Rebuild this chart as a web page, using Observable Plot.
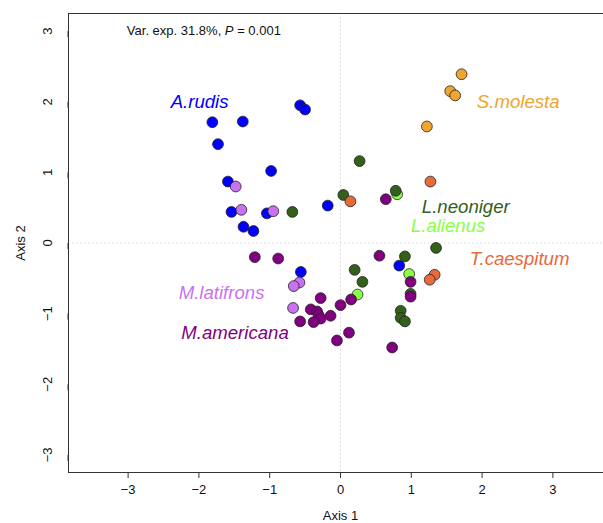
<!DOCTYPE html>
<html>
<head>
<meta charset="utf-8">
<script src="https://cdn.jsdelivr.net/npm/d3@7"></script>
<script src="https://cdn.jsdelivr.net/npm/@observablehq/plot@0.6"></script>
<style>
  html, body { margin: 0; padding: 0; background: #fff; }
  #chart svg { font-family: "Liberation Sans", Arial, Helvetica, sans-serif; display: block; }
</style>
</head>
<body>
<div id="chart"></div>
<script>
// ---- data (ordination scores) ----
const speciesNames = ["A.rudis", "L.alienus", "L.neoniger", "M.americana", "M.latifrons", "S.molesta", "T.caespitum"];
const speciesColors = ["#0000FF", "#88FF44", "#33601A", "#800080", "#C872F2", "#EFA52E", "#E8693A"];

const A_rudis = [[-1.81, 1.71], [-1.38, 1.72], [-1.73, 1.40], [-0.57, 1.95], [-0.50, 1.89], [-0.98, 1.02],
  [-1.59, 0.87], [-1.54, 0.44], [-1.04, 0.42], [-1.37, 0.23], [-1.23, 0.17], [-0.18, 0.53], [-0.56, -0.41], [0.83, -0.32]];
const L_alienus = [[0.80, 0.69], [0.97, -0.44], [0.24, -0.73]];
const L_neoniger = [[0.27, 1.16], [0.04, 0.68], [0.78, 0.74], [-0.68, 0.44], [1.35, -0.07], [0.91, -0.19],
  [0.20, -0.38], [0.31, -0.55], [0.99, -0.72], [0.85, -0.96], [0.85, -1.06], [0.91, -1.11]];
const M_americana = [[-1.21, -0.20], [-0.88, -0.22], [-0.28, -0.78], [-0.42, -0.94], [-0.33, -0.97], [-0.31, -1.02],
  [-0.28, -1.07], [-0.38, -1.12], [-0.57, -1.11], [-0.14, -1.03], [0.00, -0.88], [0.15, -0.80], [0.12, -1.27],
  [-0.05, -1.38], [0.73, -1.48], [0.55, -0.18], [0.64, 0.62], [0.99, -0.55], [0.99, -0.76]];
const M_latifrons = [[-1.48, 0.80], [-1.40, 0.47], [-0.95, 0.45], [-0.58, -0.56], [-0.66, -0.61], [-0.67, -0.92]];
const S_molesta = [[1.71, 2.39], [1.55, 2.15], [1.62, 2.09], [1.22, 1.65]];
const T_caespitum = [[1.27, 0.87], [0.14, 0.59], [1.33, -0.45], [1.26, -0.52]];
const speciesPoints = [A_rudis, L_alienus, L_neoniger, M_americana, M_latifrons, S_molesta, T_caespitum];

// species label positions (data coordinates)
const labelX = [-1.99, 1.52, 1.77, -1.49, -1.68, 2.51, 2.53];
const labelY = [2.00, 0.24, 0.51, -1.28, -0.71, 1.99, -0.23];

const xTicks = [-3, -2, -1, 0, 1, 2, 3];
const yTicks = [-3, -2, -1, 0, 1, 2, 3];
const xDomain = [-3.842, 3.715];
const yDomain = [-3.25, 3.25];
const annotation = {x: -1.93, y: 3, pre: "Var. exp. 31.8%, ", ital: "P", post: " = 0.001"};
const xTitle = "Axis 1";
const yTitle = "Axis 2";

// ---- build tables ----
const points = [];
speciesPoints.forEach((arr, i) => arr.forEach(([x, y]) => points.push({species: speciesNames[i], x, y})));
const labels = speciesNames.map((s, i) => ({species: s, x: labelX[i], y: labelY[i]}));
const fmt = d => d < 0 ? "\u2212" + (-d) : String(d);
const ink = "#333";

const chart = Plot.plot({
  width: 603,
  height: 523,
  marginLeft: 68,
  marginRight: 0,
  marginTop: 13,
  marginBottom: 51,
  style: {fontFamily: "'Liberation Sans', Arial, Helvetica, sans-serif", background: "#fff"},
  x: {domain: xDomain, label: null},
  y: {domain: yDomain, label: null},
  color: {domain: speciesNames, range: speciesColors},
  marks: [
    Plot.ruleX([0], {stroke: "#d9d9d9", strokeDasharray: "1.5,2.5"}),
    Plot.ruleY([0], {stroke: "#d9d9d9", strokeDasharray: "1.5,2.5"}),
    Plot.ruleY([yDomain[0], yDomain[1]], {stroke: ink, strokeWidth: 1}),
    Plot.ruleX([xDomain[0]], {stroke: ink, strokeWidth: 1}),
    Plot.axisX(xTicks, {ticks: xTicks, tickSize: 6, tickPadding: 6, tickFormat: fmt, fontSize: 13, stroke: ink, fill: "#111", label: null}),
    Plot.axisY(yTicks, {ticks: yTicks, tickSize: 6, tickPadding: 15, tickFormat: fmt, fontSize: 13, rotate: -90, textAnchor: "middle", stroke: ink, fill: "#111", label: null}),
    Plot.text([xTitle], {x: () => 0, y: () => yDomain[0], dy: 43, text: d => d, fontSize: 13, fill: "#111"}),
    Plot.text([yTitle], {x: () => xDomain[0], y: () => 0, dx: -48, rotate: -90, text: d => d, fontSize: 13, fill: "#111"}),
    Plot.text([annotation], {x: "x", y: "y", text: d => d.pre + d.ital + d.post, fontSize: 13, fill: "#111", className: "annot"}),
    Plot.dot(points, {x: "x", y: "y", fill: "species", r: 5.4, stroke: "#222", strokeWidth: 0.8}),
    Plot.text(labels, {x: "x", y: "y", text: "species", fill: "species", fontSize: 18.6, fontStyle: "italic"})
  ]
});

// italic P in the annotation
d3.select(chart).selectAll(".annot text").each(function() {
  const t = d3.select(this);
  t.text(null);
  t.append("tspan").text(annotation.pre);
  t.append("tspan").attr("font-style", "italic").text(annotation.ital);
  t.append("tspan").text(annotation.post);
});

document.getElementById("chart").appendChild(chart);
</script>
</body>
</html>
